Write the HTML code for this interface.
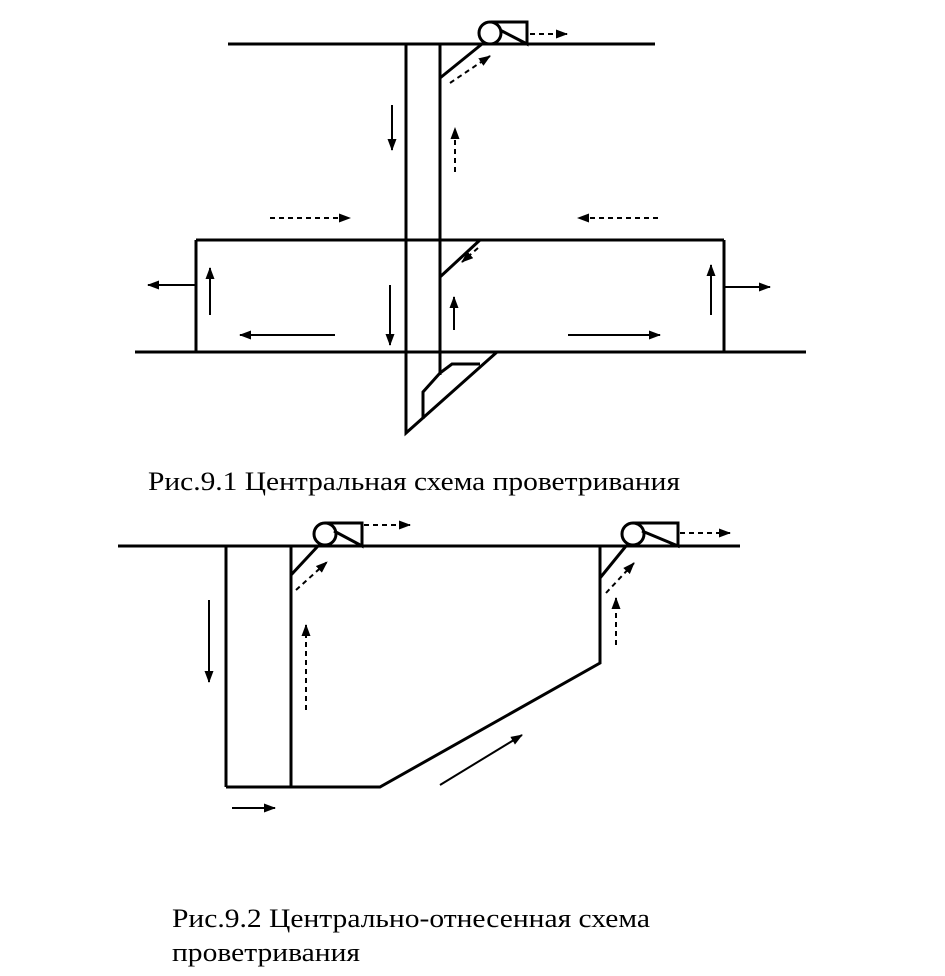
<html><body style="margin:0;background:#fff">
<svg width="945" height="976" xmlns="http://www.w3.org/2000/svg" style="display:block">
<defs><marker id="a" markerWidth="12" markerHeight="9" refX="11" refY="4.5" orient="auto" markerUnits="userSpaceOnUse"><path d="M0,0L12,4.5L0,9z" fill="#000"/></marker></defs>
<g stroke="#000" stroke-width="3" fill="none">
<line x1="228" y1="44" x2="655" y2="44"/>
<polyline points="406,44 406,433 497,352"/>
<line x1="440" y1="44" x2="440" y2="375"/>
<line x1="440" y1="78" x2="482" y2="44"/>
<circle cx="490" cy="33" r="11" fill="#fff"/>
<polyline points="491,22 527,22 527,44 500,30"/>
<line x1="196" y1="240" x2="724" y2="240"/>
<line x1="135" y1="352" x2="806" y2="352"/>
<line x1="196" y1="240" x2="196" y2="352"/>
<line x1="724" y1="240" x2="724" y2="352"/>
<line x1="440" y1="277" x2="480" y2="240"/>
<polyline points="440,373 452,364 480,364"/>
<polyline points="440,373 423,392 423,419"/>
<line x1="226" y1="546" x2="226" y2="787"/>
<line x1="291" y1="546" x2="291" y2="787"/>
<line x1="118" y1="546" x2="740" y2="546"/>
<polyline points="226,787 380,787 600,663 600,546"/>
<line x1="291" y1="575" x2="318" y2="546"/>
<circle cx="325" cy="534" r="11" fill="#fff"/>
<polyline points="325,523 362,523 362,546 334,531"/>
<line x1="600" y1="578" x2="626" y2="546"/>
<circle cx="633" cy="534" r="11" fill="#fff"/>
<polyline points="633,523 678,523 678,546 642,531"/>
</g>
<g stroke="#000" stroke-width="2" fill="none" marker-end="url(#a)">
<line x1="196" y1="285" x2="148" y2="285"/>
<line x1="724" y1="287" x2="770" y2="287"/>
<line x1="392" y1="105" x2="392" y2="150"/>
<line x1="210" y1="315" x2="210" y2="268"/>
<line x1="390" y1="285" x2="390" y2="345"/>
<line x1="454" y1="330" x2="454" y2="297"/>
<line x1="335" y1="335" x2="240" y2="335"/>
<line x1="568" y1="335" x2="660" y2="335"/>
<line x1="711" y1="315" x2="711" y2="265"/>
<line x1="209" y1="600" x2="209" y2="682"/>
<line x1="232" y1="808" x2="275" y2="808"/>
<line x1="440" y1="785" x2="522" y2="735"/>
</g>
<g stroke="#000" stroke-width="2" fill="none" stroke-dasharray="5,4" marker-end="url(#a)">
<line x1="530" y1="34" x2="567" y2="34"/>
<line x1="450" y1="83" x2="490" y2="56"/>
<line x1="455" y1="172" x2="455" y2="128"/>
<line x1="270" y1="218" x2="350" y2="218"/>
<line x1="658" y1="218" x2="578" y2="218"/>
<line x1="478" y1="248" x2="462" y2="262"/>
<line x1="364" y1="525" x2="410" y2="525"/>
<line x1="680" y1="533" x2="730" y2="533"/>
<line x1="296" y1="590" x2="327" y2="562"/>
<line x1="306" y1="710" x2="306" y2="625"/>
<line x1="616" y1="645" x2="616" y2="598"/>
<line x1="606" y1="593" x2="634" y2="563"/>
</g>
<g font-family="Liberation Serif, serif" font-size="26" fill="#000">
<text x="148" y="490" textLength="532" lengthAdjust="spacingAndGlyphs">Рис.9.1 Центральная схема проветривания</text>
<text x="172" y="927" textLength="478" lengthAdjust="spacingAndGlyphs">Рис.9.2 Центрально-отнесенная схема</text>
<text x="172" y="961" textLength="188" lengthAdjust="spacingAndGlyphs">проветривания</text>
</g>
</svg>
</body></html>
